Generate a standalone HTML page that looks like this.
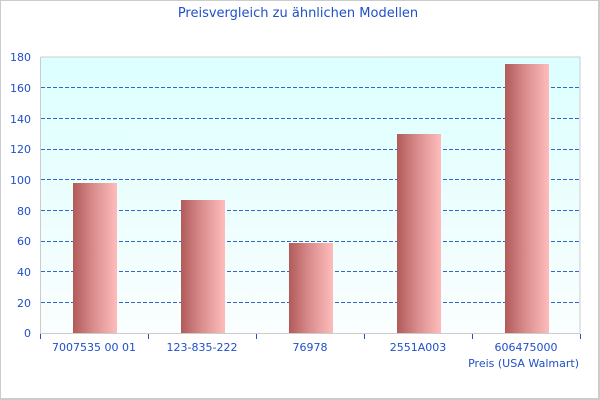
<!DOCTYPE html>
<html><head><meta charset="utf-8"><style>
html,body{margin:0;padding:0;background:#fff;}
svg{display:block;}
text{font-family:"DejaVu Sans","Liberation Sans",sans-serif;fill:#1f50c8;}
</style></head><body>
<svg width="600" height="400" viewBox="0 0 600 400" xmlns="http://www.w3.org/2000/svg">
<defs>
<linearGradient id="bg" x1="0" y1="0" x2="0" y2="1">
<stop offset="0" stop-color="#dcffff"/>
<stop offset="1" stop-color="#fafefe"/>
</linearGradient>
<linearGradient id="bar" x1="0" y1="0" x2="1" y2="0">
<stop offset="0" stop-color="#b25a5a"/>
<stop offset="0.5" stop-color="#dc9090"/>
<stop offset="1" stop-color="#ffbcbc"/>
</linearGradient>
</defs>
<rect x="0" y="0" width="600" height="400" fill="#fff"/>
<rect x="0.5" y="0.5" width="598" height="398" fill="none" stroke="#cccccc" stroke-width="1"/>
<line x1="599" y1="0" x2="599" y2="400" stroke="#cccccc" stroke-width="2"/>
<line x1="0" y1="399" x2="600" y2="399" stroke="#cccccc" stroke-width="2"/>
<text x="298" y="17" font-size="13" text-anchor="middle">Preisvergleich zu ähnlichen Modellen</text>
<rect x="40" y="57" width="540" height="276" fill="url(#bg)"/>
<g stroke="#3366cc" stroke-width="1" stroke-dasharray="4,2">
<line x1="41" y1="302.5" x2="580" y2="302.5"/>
<line x1="41" y1="271.5" x2="580" y2="271.5"/>
<line x1="41" y1="241.5" x2="580" y2="241.5"/>
<line x1="41" y1="210.5" x2="580" y2="210.5"/>
<line x1="41" y1="179.5" x2="580" y2="179.5"/>
<line x1="41" y1="149.5" x2="580" y2="149.5"/>
<line x1="41" y1="118.5" x2="580" y2="118.5"/>
<line x1="41" y1="87.5" x2="580" y2="87.5"/>
</g>
<rect x="73" y="183" width="44" height="150" fill="url(#bar)"/>
<rect x="181" y="200" width="44" height="133" fill="url(#bar)"/>
<rect x="289" y="243" width="44" height="90" fill="url(#bar)"/>
<rect x="397" y="134" width="44" height="199" fill="url(#bar)"/>
<rect x="505" y="64" width="44" height="269" fill="url(#bar)"/>
<polyline points="40.5,57 40.5,333.5 580,333.5 580,57 40.5,57" fill="none" stroke="#cccccc" stroke-width="1"/>
<g stroke="#1f50c8" stroke-width="1">
<line x1="40.5" y1="334" x2="40.5" y2="339"/>
<line x1="148.5" y1="334" x2="148.5" y2="339"/>
<line x1="256.5" y1="334" x2="256.5" y2="339"/>
<line x1="364.5" y1="334" x2="364.5" y2="339"/>
<line x1="472.5" y1="334" x2="472.5" y2="339"/>
<line x1="580.5" y1="334" x2="580.5" y2="339"/>
</g>
<g font-size="11" text-anchor="end">
<text x="31" y="337">0</text>
<text x="31" y="307">20</text>
<text x="31" y="276">40</text>
<text x="31" y="245">60</text>
<text x="31" y="215">80</text>
<text x="31" y="184">100</text>
<text x="31" y="153">120</text>
<text x="31" y="123">140</text>
<text x="31" y="92">160</text>
<text x="31" y="61">180</text>
</g>
<g font-size="11" text-anchor="middle">
<text x="94" y="351">7007535 00 01</text>
<text x="202" y="351">123-835-222</text>
<text x="310" y="351">76978</text>
<text x="418" y="351">2551A003</text>
<text x="526" y="351">606475000</text>
</g>
<text x="579" y="367" font-size="11" text-anchor="end">Preis (USA Walmart)</text>
</svg>
</body></html>
